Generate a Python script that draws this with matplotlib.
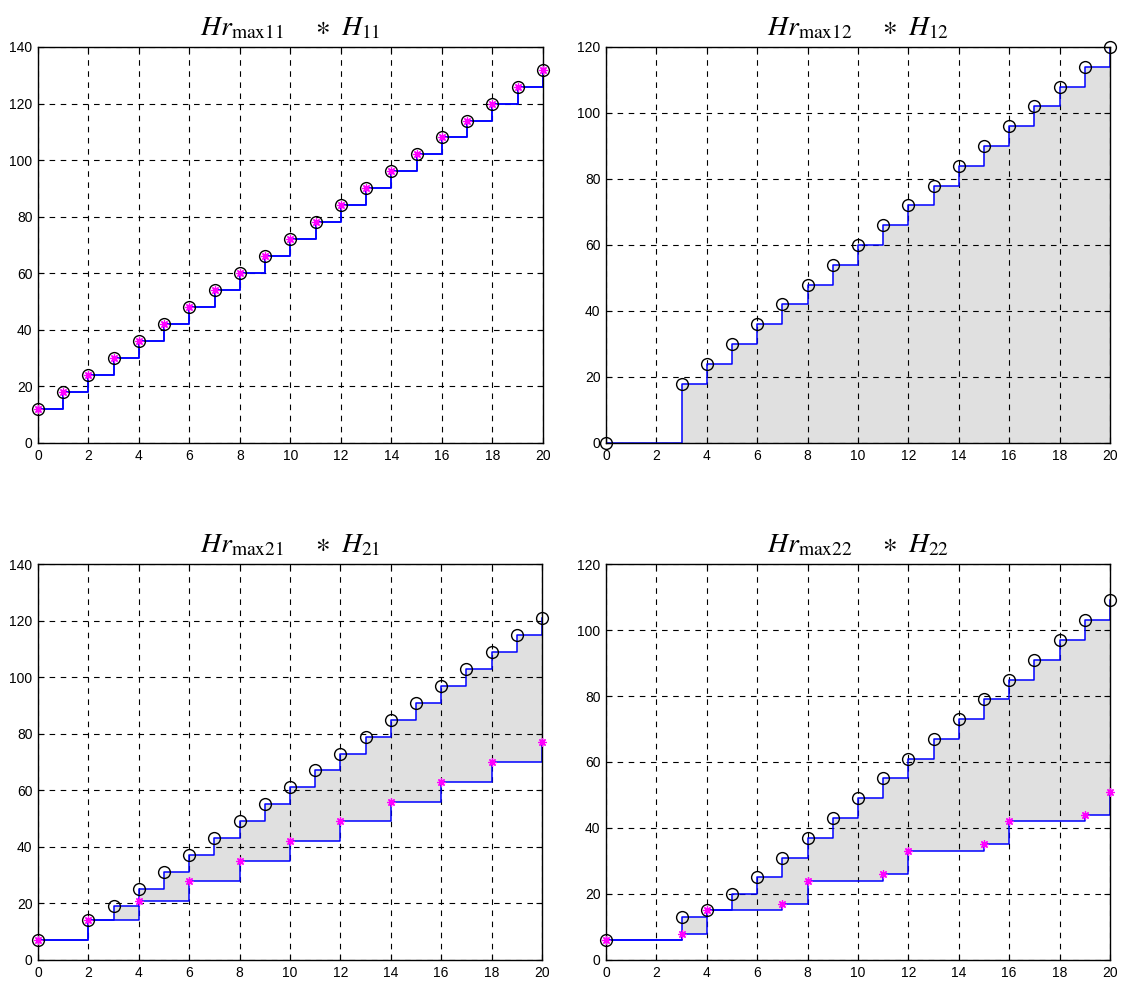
import numpy as np
import matplotlib
matplotlib.use('Agg')
import matplotlib.pyplot as plt

plt.rcParams['font.family'] = ['Liberation Sans', 'DejaVu Sans']
plt.rcParams['mathtext.fontset'] = 'stix'

# upper curve (circles) and lower curve (stars) for each panel
x11 = list(range(0, 21))
up11 = [12, 18, 24, 30, 36, 42, 48, 54, 60, 66, 72, 78, 84, 90, 96, 102, 108, 114, 120, 126, 132]
lox11 = list(range(0, 21))
lo11 = [12, 18, 24, 30, 36, 42, 48, 54, 60, 66, 72, 78, 84, 90, 96, 102, 108, 114, 120, 126, 132]

x12 = [0, 3, 4, 5, 6, 7, 8, 9, 10, 11, 12, 13, 14, 15, 16, 17, 18, 19, 20]
up12 = [0, 18, 24, 30, 36, 42, 48, 54, 60, 66, 72, 78, 84, 90, 96, 102, 108, 114, 120]
lox12 = []
lo12 = []

x21 = [0, 2, 3, 4, 5, 6, 7, 8, 9, 10, 11, 12, 13, 14, 15, 16, 17, 18, 19, 20]
up21 = [7, 14, 19, 25, 31, 37, 43, 49, 55, 61, 67, 73, 79, 85, 91, 97, 103, 109, 115, 121]
lox21 = [0, 2, 4, 6, 8, 10, 12, 14, 16, 18, 20]
lo21 = [7, 14, 21, 28, 35, 42, 49, 56, 63, 70, 77]

x22 = [0, 3, 4, 5, 6, 7, 8, 9, 10, 11, 12, 13, 14, 15, 16, 17, 18, 19, 20]
up22 = [6, 13, 15, 20, 25, 31, 37, 43, 49, 55, 61, 67, 73, 79, 85, 91, 97, 103, 109]
lox22 = [0, 3, 4, 7, 8, 11, 12, 15, 16, 19, 20]
lo22 = [6, 8, 15, 17, 24, 26, 33, 35, 42, 44, 51]

panels = [
    ('11', x11, up11, lox11, lo11, 140, [0.0338, 0.5503, 0.4497, 0.402]),
    ('12', x12, up12, lox12, lo12, 120, [0.5396, 0.5503, 0.4488, 0.402]),
    ('21', x21, up21, lox21, lo21, 140, [0.0338, 0.0254, 0.4488, 0.402]),
    ('22', x22, up22, lox22, lo22, 120, [0.5396, 0.0254, 0.4488, 0.402]),
]


def held(xs, ys, grid):
    # value of the stairs curve at each grid point
    xs = np.asarray(xs)
    ys = np.asarray(ys)
    if len(xs) == 0:
        return np.zeros(len(grid))
    return ys[np.searchsorted(xs, grid, side='right') - 1]


fig = plt.figure(figsize=(11.23, 9.85), dpi=100)

for idx, xs, ups, lxs, los, ymax, pos in panels:
    ax = fig.add_axes(pos)
    grid = np.arange(0, 21)
    hi = held(xs, ups, grid)
    lo = held(lxs, los, grid)
    ax.fill_between(grid, lo, hi, step='post', color='#e0e0e0', lw=0, zorder=1)

    ax.step(xs, ups, where='post', color='#0000ff', lw=1.1, zorder=2)
    if lxs:
        ax.step(lxs, los, where='post', color='#0000ff', lw=1.1, zorder=2)
    ax.plot(xs, ups, 'o', ms=8.5, mfc='none', mec='black', mew=1.0, zorder=3, clip_on=False)
    if lxs:
        ax.plot(lxs, los, ls='none', marker=(8, 2, 0), ms=6, mec='#ff00ff', mew=0.9,
                zorder=4, clip_on=False)

    ax.set_xlim(0, 20)
    ax.set_ylim(0, ymax)
    ax.set_xticks(range(0, 21, 2))
    ax.set_yticks(range(0, ymax + 1, 20))
    ax.set_axisbelow('line')
    ax.grid(True, color='black', ls=(0, (5, 5)), lw=0.8)
    ax.tick_params(direction='in', length=4, labelsize=10, pad=4, top=True, right=True)
    for s in ax.spines.values():
        s.set_linewidth(1.0)

    ax.set_title(r'$Hr_{\mathrm{max%s}}\quad\ \ast\ H_{%s}$' % (idx, idx), fontsize=20, pad=8)

fig.savefig('out.png', dpi=100)
